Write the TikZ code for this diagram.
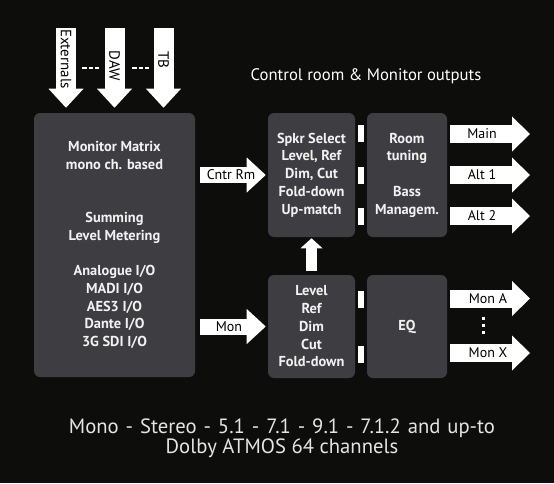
\documentclass[tikz,border=0pt]{standalone}
\usepackage{fontspec}
\setmainfont{PT Sans}
\usetikzlibrary{arrows.meta}
\definecolor{bgblack}{RGB}{13,14,12}
\definecolor{boxgray}{RGB}{62,62,66}
\definecolor{boxtext}{RGB}{242,242,242}
\definecolor{lighttext}{RGB}{228,228,228}

\begin{document}
\begin{tikzpicture}[x=0.75pt,y=0.75pt,yscale=-1,xscale=1,
	block/.style={fill=boxgray, rounded corners=4.5pt, text=boxtext, align=center, inner sep=0pt, font=\bfseries\fontsize{10.8}{13.3}\selectfont},
	inarrow/.style={draw=white, line width=15pt, -{Triangle[length=14.25pt,width=26.25pt,line width=0pt]}},
	fatarrow/.style={draw=white, line width=12pt, -{Triangle[length=14.25pt,width=26.25pt,line width=0pt]}},
	outarrow/.style={draw=white, line width=13.5pt, shorten <=2.25pt, -{Triangle[length=13.5pt,width=26.25pt,line width=0pt]}},
	uparrow/.style={draw=white, line width=8.25pt, -{Triangle[length=7.5pt,width=16.5pt,line width=0pt]}},
	link/.style={draw=white, line width=12.75pt, shorten <=2.25pt, shorten >=2.25pt},
	arrowlabel/.style={text=black, inner sep=0pt, font=\fontsize{10.5}{12}\selectfont},
	dots/.style={draw=white, line width=2pt, dash pattern=on 3.4pt off 1.6pt},
]
	%Background
	\useasboundingbox (0,0) rectangle (554,483);
	\fill[bgblack] (0,0) rectangle (554,483);

	%Blocks
	\node[block, minimum width=120.75pt, minimum height=198pt] (mtx) at (114.5,245) {Monitor Matrix\\mono ch. based\\[26.6pt]Summing\\Level Metering\\[13.3pt]Analogue I/O\\MADI I/O\\AES3 I/O\\Dante I/O\\3G SDI I/O};
	\node[block, minimum width=65.25pt, minimum height=93pt] (spkr) at (311.5,175) {Spkr Select\\Level, Ref\\Dim, Cut\\Fold-down\\Up-match};
	\node[block, minimum width=60pt, minimum height=93pt] (room) at (407,175) {Room\\tuning\\[13.3pt]Bass\\Managem.};
	\node[block, minimum width=65.25pt, minimum height=77.25pt] (lvl) at (311.5,326.5) {Level\\Ref\\Dim\\Cut\\Fold-down};
	\node[block, minimum width=60pt, minimum height=77.25pt] (eq) at (407,326.5) {EQ};

	% Text Node
	\node[text=white, font=\fontsize{12.5}{14}\selectfont] (title) at (366,76) {Control room \& Monitor outputs};

	%Inputs
	\coordinate (ext) at (66,28);
	\coordinate (daw) at (114.5,28);
	\coordinate (tb) at (163.5,28);
	\draw[inarrow, shorten >=3.75pt] (ext) -- (ext |- mtx.north);
	\draw[inarrow, shorten >=3.75pt] (daw) -- (daw |- mtx.north);
	\draw[inarrow, shorten >=3.75pt] (tb) -- (tb |- mtx.north);
	\node[arrowlabel, rotate=-90, font=\fontsize{11.2}{12}\selectfont] (extlbl) at (66,59) {Externals};
	\node[arrowlabel, rotate=-90, font=\fontsize{11.2}{12}\selectfont] (dawlbl) at (114.5,66) {DAW};
	\node[arrowlabel, rotate=-90, font=\fontsize{11.2}{12}\selectfont] (tblbl) at (163.5,60) {TB};
	\draw[dots] (82,68) -- (99,68);
	\draw[dots] (132,68) -- (149,68);

	%Matrix to processing
	\draw[fatarrow, shorten <=3.75pt, shorten >=1.5pt] (mtx.east |- spkr.west) -- (spkr.west);
	\draw[fatarrow, shorten <=3.75pt, shorten >=1.5pt] (mtx.east |- lvl.west) -- (lvl.west);
	\node[arrowlabel] (cntrlbl) at (231,175) {Cntr Rm};
	\node[arrowlabel] (monlbl) at (229,326.5) {Mon};
	\draw[uparrow, shorten <=3pt, shorten >=0.75pt] (lvl.north) -- (spkr.south);

	%Links between blocks
	\draw[link] ([yshift=31pt]spkr.east) -- ([yshift=31pt]room.west);
	\draw[link] (spkr.east) -- (room.west);
	\draw[link] ([yshift=-31pt]spkr.east) -- ([yshift=-31pt]room.west);
	\draw[link] ([yshift=21pt]lvl.east) -- ([yshift=21pt]eq.west);
	\draw[link] ([yshift=-20pt]lvl.east) -- ([yshift=-20pt]eq.west);

	%Outputs
	\coordinate (mainout) at (530,134);
	\coordinate (alt1out) at (530,175);
	\coordinate (alt2out) at (530,216);
	\coordinate (monaout) at (530,298.5);
	\coordinate (monxout) at (530,353);
	\draw[outarrow] (room.east |- mainout) -- (mainout);
	\draw[outarrow] (room.east |- alt1out) -- (alt1out);
	\draw[outarrow] (room.east |- alt2out) -- (alt2out);
	\draw[outarrow] (eq.east |- monaout) -- (monaout);
	\draw[outarrow] (eq.east |- monxout) -- (monxout);
	\node[arrowlabel] (mainlbl) at (482,134) {Main};
	\node[arrowlabel] (alt1lbl) at (482,175) {Alt 1};
	\node[arrowlabel] (alt2lbl) at (482,216) {Alt 2};
	\node[arrowlabel] (monalbl) at (488,298.5) {Mon A};
	\node[arrowlabel] (monxlbl) at (488,353) {Mon X};
	\draw[draw=white, line width=2.25pt, dash pattern=on 2.25pt off 3pt] (483,316.5) -- (483,334);

	% Text Node
	\node[text=lighttext, align=center, font=\fontsize{15.5}{15}\selectfont] (formats) at (282,438) {{\spaceskip=5.2pt\relax Mono - Stereo - 5.1 - 7.1 - 9.1 - 7.1.2 and up-to}\\Dolby ATMOS 64 channels};
\end{tikzpicture}
\end{document}
